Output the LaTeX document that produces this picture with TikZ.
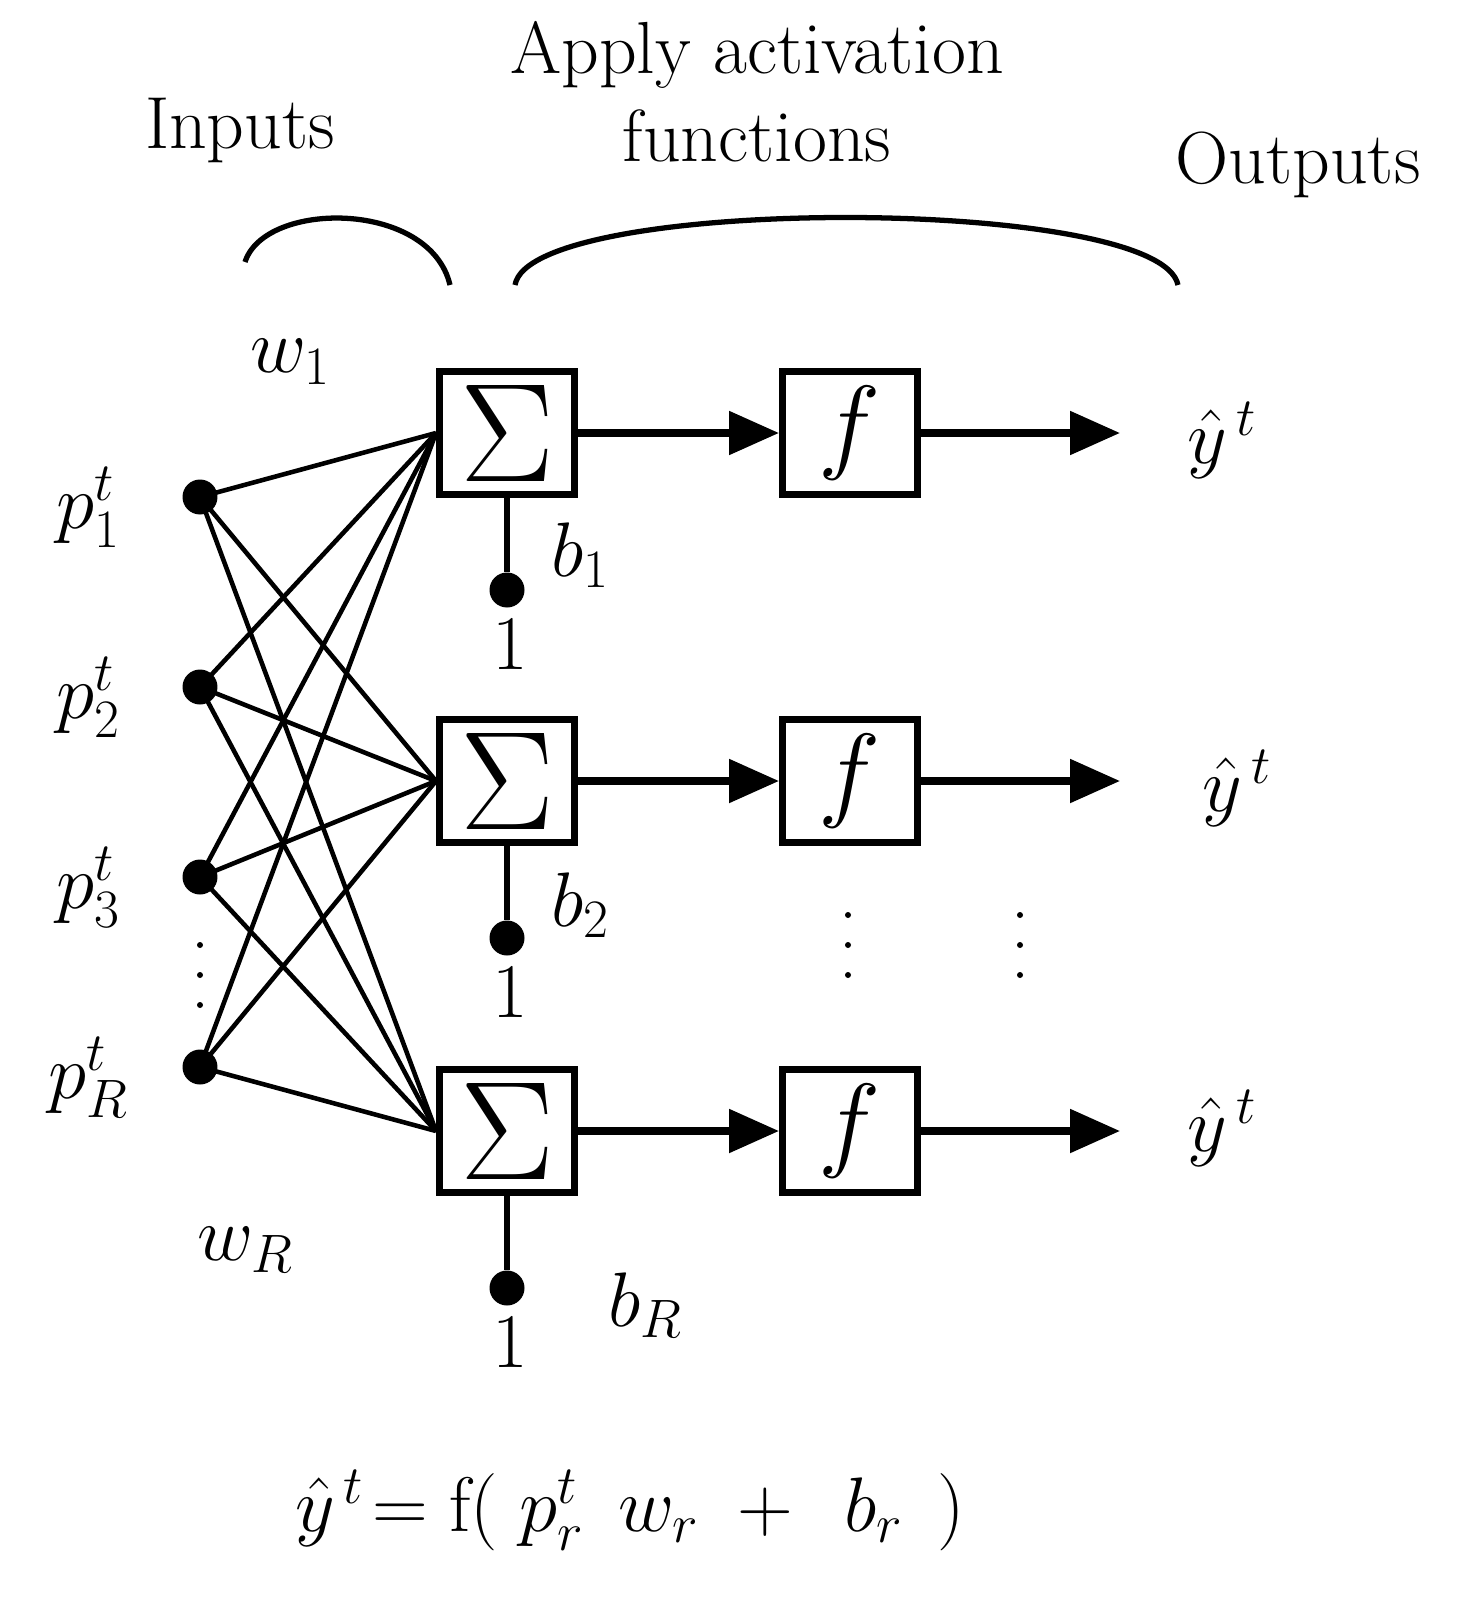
\RequirePackage{fix-cm}
\documentclass[tikz,border=0pt]{standalone}
\usetikzlibrary{arrows.meta}
\begin{document}
\begin{tikzpicture}[x=0.02cm,y=-0.02cm,
  box/.style={draw,line width=4pt,minimum width=2.7cm,minimum height=2.45cm,inner sep=0},
  dot/.style={circle,fill,inner sep=0,minimum size=0.7cm},
  sdot/.style={circle,fill,inner sep=0,minimum size=0.12cm},
  wire/.style={line width=2.6pt},
  arr/.style={line width=4pt,-{Triangle[length=1cm,width=0.85cm]}},
  lab/.style={font=\fontsize{44}{52}\selectfont},
  big/.style={font=\fontsize{42}{50}\selectfont}]
\useasboundingbox (0,0) rectangle (1476,1615);
\node[big] (tin) at (240,130) {Inputs};
\node[big,align=center] (tact) at (757,92) {Apply activation\\functions};
\node[big] (tout) at (1298,165) {Outputs};
\draw[line width=3pt] (245,262) .. controls (265,200) and (430,200) .. (450,285);
\draw[line width=3pt] (515,285) .. controls (530,195) and (1160,195) .. (1178,285);
\foreach \i/\y/\t in {1/497/1,2/687/2,3/877/3,4/1067/R}{
  \node[dot] (p\i) at (200,\y) {};
  \node[lab] (pl\i) at (88,\y+10) {$p^t_{\t}$};
}
\foreach \k/\y in {a/945,b/975,c/1005}{
  \node[sdot] (v\k) at (200,\y) {};
  \node[sdot] (w\k) at (848,\y-30) {};
  \node[sdot] (u\k) at (1020,\y-30) {};
}
\foreach \j/\y/\b/\by/\bx in {1/433/1/555/580,2/781/2/905/580,3/1131/R/1305/645}{
  \node[box] (s\j) at (507,\y) {\fontsize{80}{80}\selectfont$\Sigma$};
  \node[box] (f\j) at (850,\y) {\fontsize{60}{60}\selectfont$f$};
  \coordinate (o\j) at (1120,\y);
  \draw[arr] (s\j) -- (f\j);
  \draw[arr] (f\j) -- (o\j);
  \node[dot] (d\j) at (507,\y+157) {};
  \draw[line width=3pt] (s\j) -- (d\j);
  \node[lab] (one\j) at (510,\y+212) {$1$};
  \node[lab] (b\j) at (\bx,\by) {$b_{\b}$};
  \foreach \i in {1,...,4} \draw[wire] (p\i.center) -- (s\j.west);
}
\node[lab] (y1) at (1222,440) {$\hat y^{\,t}$};
\node[lab] (y2) at (1237,788) {$\hat y^{\,t}$};
\node[lab] (y3) at (1222,1128) {$\hat y^{\,t}$};
\node[lab] (w1) at (290,362) {$w_1$};
\node[lab] (wR) at (245,1250) {$w_R$};
\node[lab] (eq) at (630,1510) {$\hat y^{\,t}\!=\mathrm{f}(\;p^t_r\;\,w_r\;+\;\,b_r\;\,)$};
\end{tikzpicture}
\end{document}
